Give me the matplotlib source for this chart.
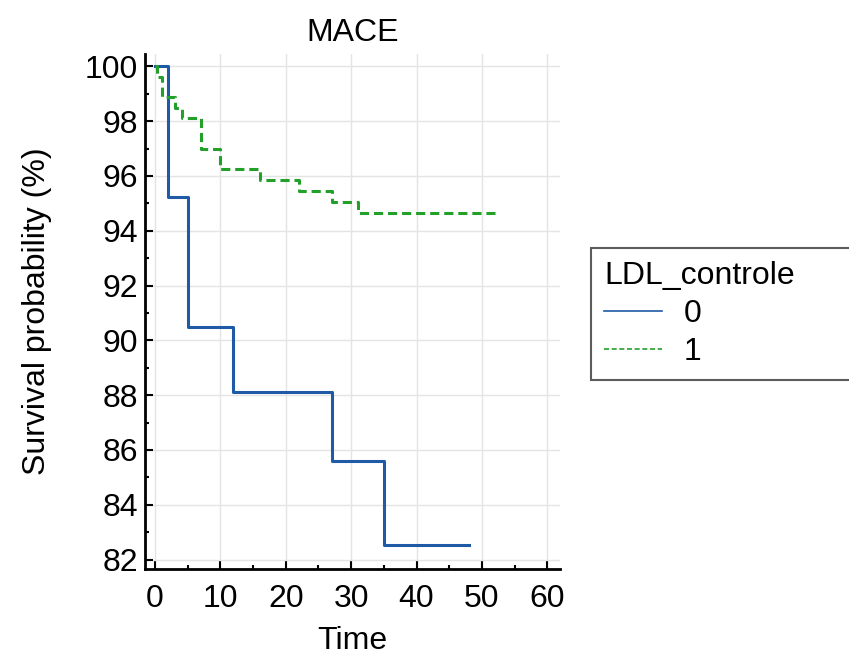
import matplotlib
matplotlib.use("Agg")
import matplotlib.pyplot as plt
from matplotlib.ticker import MultipleLocator

plt.rcParams['font.family'] = ['Liberation Sans', 'DejaVu Sans']

# Kaplan-Meier steps, group 0
t0 = [0, 2, 5, 12, 27, 35, 48]
s0 = [100, 95.24, 90.48, 88.10, 85.58, 82.52, 82.52]

# group 1
t1 = [0, 0.3, 1, 3, 4.1, 7, 10, 16, 22, 27, 31, 52]
s1 = [100, 99.62, 98.88, 98.49, 98.11, 97.0, 96.24, 95.86, 95.44, 95.05, 94.65, 94.65]

fs = 23

fig = plt.figure(figsize=(8.49, 6.58), dpi=100)
ax = fig.add_axes([0.171, 0.135, 0.489, 0.783])

ax.step(t0, s0, where='post', color='#1f5aa6', lw=2.2, label='0')
ax.step(t1, s1, where='post', color='#22a02a', lw=2.2, ls=(0, (3, 1.6)), label='1')

ax.set_xlim(-1.5, 62)
ax.set_ylim(81.65, 100.45)
ax.xaxis.set_major_locator(MultipleLocator(10))
ax.xaxis.set_minor_locator(MultipleLocator(5))
ax.yaxis.set_major_locator(MultipleLocator(2))
ax.yaxis.set_minor_locator(MultipleLocator(1))
ax.tick_params(which='both', direction='in', labelsize=fs, width=1.5)
ax.tick_params(axis='x', pad=11)
ax.tick_params(axis='y', pad=5)
ax.tick_params(which='major', length=6)
ax.tick_params(which='minor', length=3)
ax.grid(True, which='major', color='#e4e4e4', lw=1)
ax.set_axisbelow(True)

for side in ['top', 'right']:
    ax.spines[side].set_visible(False)
for side in ['left', 'bottom']:
    ax.spines[side].set_linewidth(2)

ax.set_title('MACE', fontsize=fs, pad=9)
ax.set_xlabel('Time', fontsize=fs, labelpad=8)
ax.set_ylabel('Survival probability (%)', fontsize=fs, labelpad=24)

leg = ax.legend(title='LDL_controle', loc='upper left',
                bbox_to_anchor=(1.075, 0.623, 0.64, 0.0), mode='expand',
                fontsize=fs, title_fontsize=fs, frameon=True, fancybox=False,
                handlelength=1.8, handletextpad=0.7, borderpad=0.4,
                labelspacing=0.25, borderaxespad=0)
leg._legend_box.align = 'left'
leg.get_frame().set_edgecolor('#333333')
leg.get_frame().set_linewidth(1.5)
for line in leg.get_lines():
    line.set_linewidth(1.2)

fig.savefig('out.png', dpi=100)
